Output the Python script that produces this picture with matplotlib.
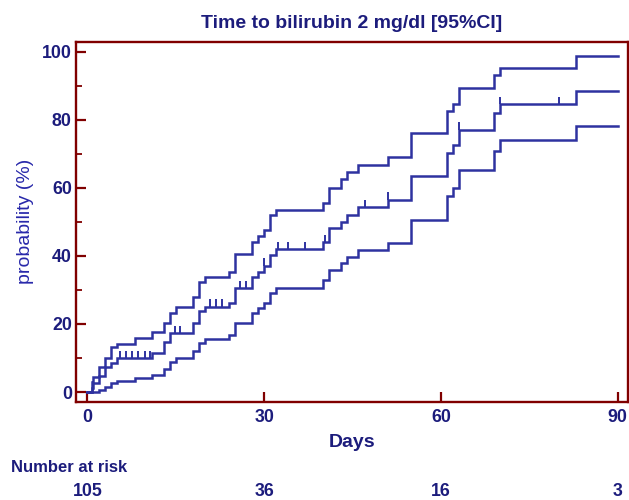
import numpy as np
import matplotlib.pyplot as plt
from matplotlib.ticker import MultipleLocator
import matplotlib.transforms as mtransforms

plt.rcParams['font.family'] = ['Liberation Sans', 'DejaVu Sans']

# event times (days) and cumulative probability (%) - estimate with 95% CI
days = [0, 0.7, 1, 2, 3, 4, 5, 8, 11, 13, 14, 15, 18, 19, 20, 24, 25, 28, 29, 30,
        31, 32, 40, 41, 43, 44, 46, 51, 55, 61, 62, 63, 69, 70, 83]
upper = [0, 3.0, 4.5, 7.3, 10.0, 13.1, 14.2, 15.8, 17.5, 20.4, 23.3, 25.0, 27.8, 32.4,
         33.7, 35.4, 40.6, 44.0, 45.9, 47.6, 51.9, 53.5, 55.6, 60.1, 62.5, 64.6, 66.8,
         69.2, 76.1, 82.6, 84.6, 89.3, 93.2, 95.4, 98.8]
middle = [0, 1.3, 2.6, 4.8, 7.3, 8.6, 9.9, 9.9, 11.4, 14.6, 17.3, 17.3, 20.2, 23.7,
          25.1, 26.1, 30.5, 33.7, 35.4, 37.1, 40.3, 42.0, 44.0, 48.1, 50.1, 52.1, 54.3,
          56.5, 63.4, 70.2, 72.6, 77.1, 82.0, 84.6, 88.5]
lower = [0, 0, 0, 0.6, 1.6, 2.6, 3.3, 4.0, 5.0, 6.9, 8.9, 10.0, 12.0, 14.3, 15.5,
         16.8, 20.4, 23.1, 24.6, 26.1, 29.0, 30.5, 32.9, 35.9, 37.8, 39.8, 41.8, 43.7,
         50.6, 57.5, 59.9, 65.3, 70.9, 74.1, 78.2]
end_day = 90

# censored observations on the estimate curve
censored = [5.5, 6.5, 7.5, 8.6, 9.7, 10.6, 14.9, 15.7, 20.8, 21.9, 22.8, 25.9, 26.9,
            30.0, 32.3, 34.0, 36.9, 40.4, 47.1, 51.0, 63.0, 70.0, 80.0]

risk_days = [0, 30, 60, 90]
at_risk = [105, 36, 16, 3]

line_col = '#2e32a0'
frame_col = '#800000'
text_col = '#1c1c7c'

fig = plt.figure(figsize=(6.29, 5.0), dpi=100)
ax = fig.add_axes([0.1208, 0.1966, 0.877, 0.72])

for vals in (upper, middle, lower):
    xs = days + [end_day]
    ys = vals + [vals[-1]]
    ax.step(xs, ys, where='post', color=line_col, lw=1.8, solid_joinstyle='miter')

idx = np.searchsorted(days, censored, side='right') - 1
levels = np.array(middle)[idx]
ax.vlines(censored, levels, levels + 2.2, color=line_col, lw=1.4)

ax.set_xlim(-1.95, 91.7)
ax.set_ylim(-2.85, 103)
ax.set_xticks([0, 30, 60, 90])
ax.yaxis.set_major_locator(MultipleLocator(20))
ax.yaxis.set_minor_locator(MultipleLocator(10))

for sp in ax.spines.values():
    sp.set_color(frame_col)
    sp.set_linewidth(1.7)
ax.tick_params(which='major', direction='in', length=7.5, width=1.6, color=frame_col,
               labelsize=12.8, labelcolor=text_col)
ax.tick_params(which='minor', direction='in', length=4, width=1.3, color=frame_col)
ax.tick_params(axis='y', pad=3)
ax.tick_params(axis='x', pad=5)
for lab in ax.get_xticklabels() + ax.get_yticklabels():
    lab.set_fontweight('bold')

ax.set_title('Time to bilirubin 2 mg/dl [95%CI]', fontsize=14, fontweight='bold',
             color=text_col, pad=10)
ax.set_xlabel('Days', fontsize=14, fontweight='bold', color=text_col, labelpad=6)
ax.set_ylabel('probability (%)', fontsize=14, color='#2828aa', labelpad=6)

fig.text(0.018, 0.066, 'Number at risk', fontsize=12, fontweight='bold',
         color=text_col, va='center', ha='left')
trans = mtransforms.blended_transform_factory(ax.transData, fig.transFigure)
for d, n in zip(risk_days, at_risk):
    ax.text(d, 0.018, str(n), transform=trans, ha='center', va='center',
            fontsize=12.8, fontweight='bold', color=text_col, clip_on=False)

fig.savefig('out.png', dpi=100)
